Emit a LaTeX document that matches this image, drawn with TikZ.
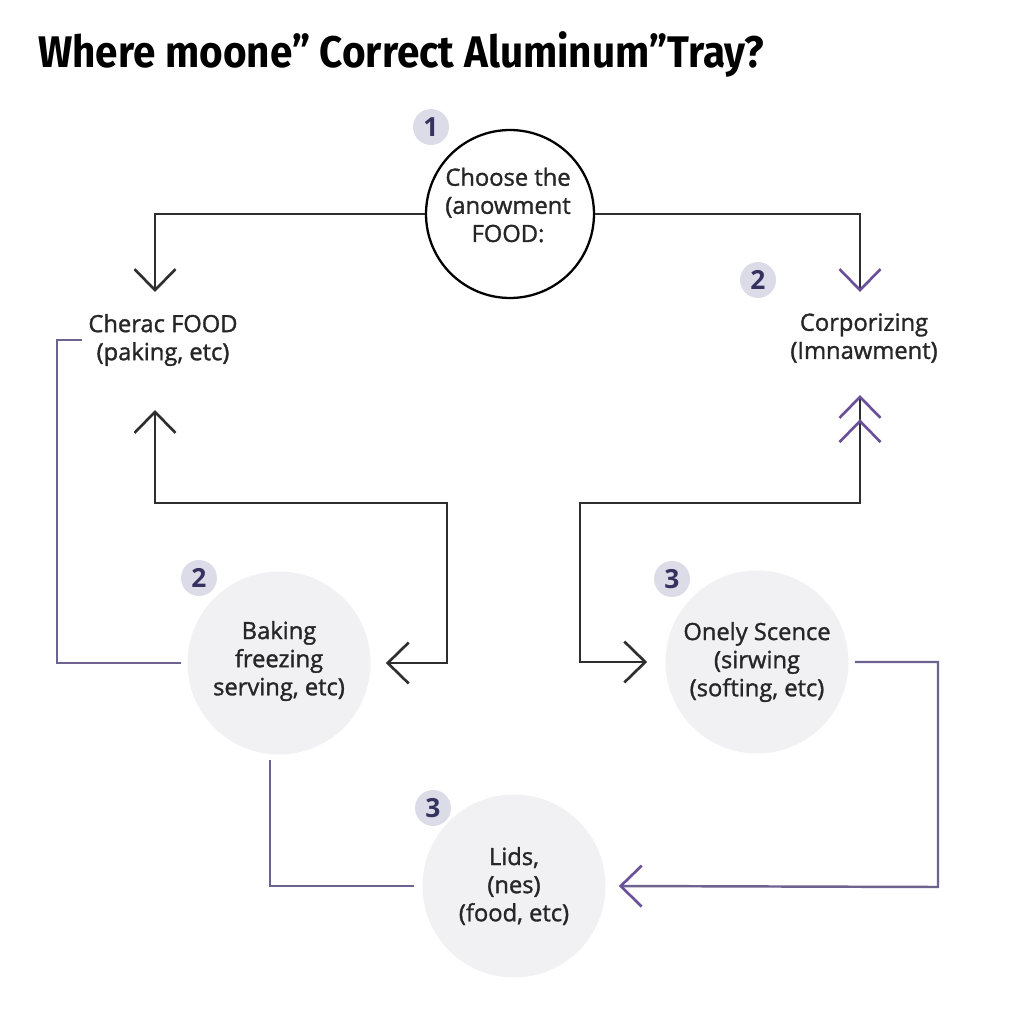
\documentclass[tikz,border=0pt]{standalone}
\usepackage{fontspec}
\setmainfont{Open Sans}
\newfontfamily\lblfont{Open Sans}[FakeBold=1.3]
\newfontfamily\titlefont{Fira Sans}
\usetikzlibrary{arrows.meta}
\definecolor{pline}{HTML}{6E6290}
\definecolor{parrow}{HTML}{6A4F9A}
\definecolor{dline}{HTML}{2E2E2E}
\definecolor{badgefill}{HTML}{DCDCE8}
\definecolor{badgetext}{HTML}{35325F}
\definecolor{softfill}{HTML}{F1F1F3}
\tikzset{
  lbl/.style={align=center, font=\lblfont\fontsize{13.5}{16}\selectfont, text=black!85},
  softcircle/.style={circle, fill=softfill, minimum size=3.66cm, inner sep=0pt},
  badge/.style={circle, fill=badgefill, minimum size=0.72cm, inner sep=0pt,
    text=badgetext, font=\bfseries\fontsize{15}{15}\selectfont},
  blk/.style={draw=dline, line width=1.5pt},
  prp/.style={draw=pline, line width=1.4pt},
  barb/.tip={Straight Barb[length=0.42cm, width=0.82cm, line width=1.5pt]},
}
\begin{document}
\begin{tikzpicture}[x=0.02cm, y=-0.02cm]
\fill[white] (0,0) rectangle (1024,1024);
\useasboundingbox (0,0) rectangle (1024,1024);

% title
\node[anchor=west, inner sep=0pt] (title) at (38,54)
  {\titlefont\bfseries\fontsize{24}{26}\selectfont\scalebox{0.96}[1.05]{Where moone\char"201D\ Correct Aluminum\char"201D Tray?}};

% main circle
\node[circle, draw=black, line width=1.3pt, fill=white, minimum size=3.36cm, inner sep=0pt] (n1) at (510,214) {};
\node[lbl] (n1t) at (508,205) {Choose the\\(anowment\\FOOD:};
\node[badge] (b1) at (431,127) {1};

% side texts
\node[lbl] (cher) at (163,340) {Cherac FOOD\\(paking, etc)};
\node[lbl] (corp) at (864,338) {Corporizing\\(Imnawment)};
\node[badge] (b2r) at (758,280) {2};

% soft circles
\node[softcircle] (bak) at (279,663) {};
\node[lbl] (bakt) at (279,661) {Baking\\freezing\\serving, etc)};
\node[badge] (b2l) at (199,578) {2};

\node[softcircle] (onely) at (757,662) {};
\node[lbl] (onelyt) at (757,662) {Onely Scence\\(sirwing\\(softing, etc)};
\node[badge] (b3r) at (672,579) {3};

\node[softcircle] (lids) at (514,886) {};
\node[lbl] (lidst) at (514,886) {Lids,\\(nes)\\(food, etc)};
\node[badge] (b3l) at (433,808) {3};

% connectors from main circle
\draw[blk, -{barb}] (n1.west) -| (155,292);
\draw[blk, -{barb[color=parrow]}] (n1.east) -| (860,292);

% left purple bracket
\draw[prp] (cher.west) -| (57,663) -- ([xshift=-0.12cm]bak.west);

% lower-left black path
\draw[blk, {barb}-{barb}] (155,410) |- (447,503) |- ([xshift=0.3cm]bak.east);

% right black path with double purple arrow
\draw[blk, {barb[color=parrow]barb[color=parrow]}-{barb}] (860,395) |- (580,503) |- ([xshift=-0.36cm]onely.west);

% right purple bracket
\draw[prp, -{barb[color=parrow]}] ([xshift=0.12cm]onely.east) -| (938,887) -- ([xshift=0.26cm]lids.east);

% lower-left purple bracket
\draw[prp] (270,760) |- ([xshift=-0.16cm]lids.west);
\end{tikzpicture}
\end{document}
